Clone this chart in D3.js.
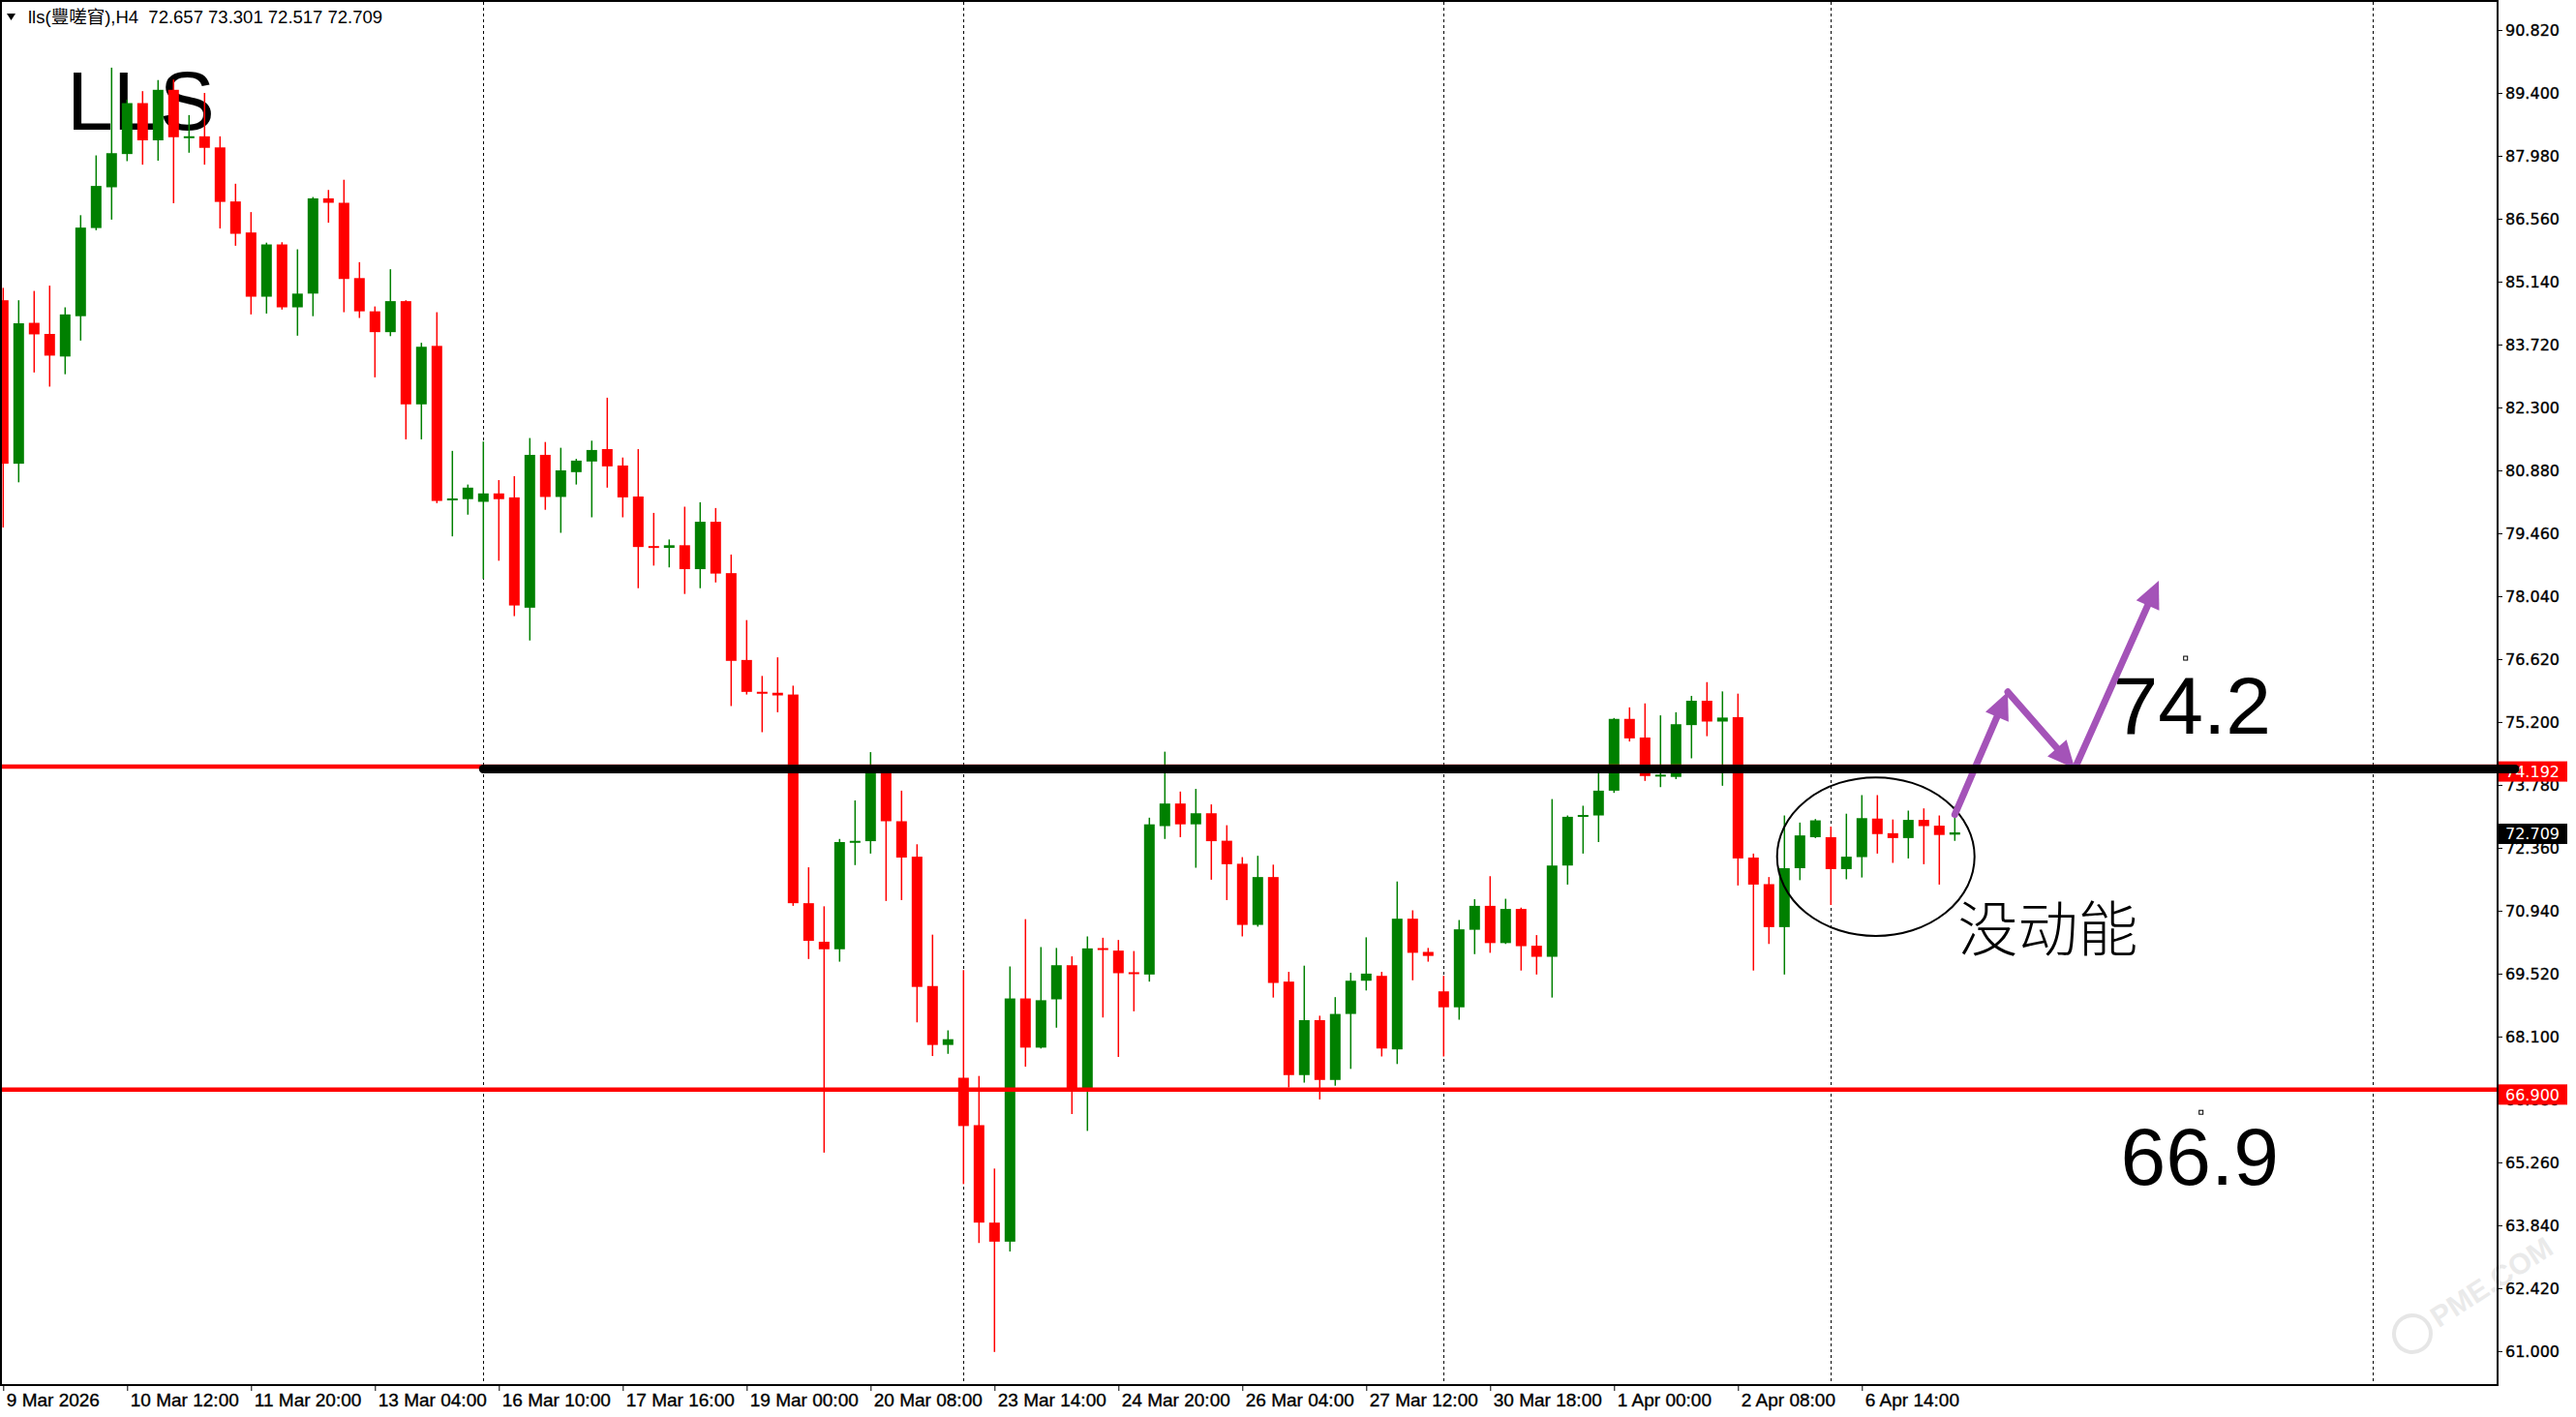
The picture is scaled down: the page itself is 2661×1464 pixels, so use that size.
<!DOCTYPE html>
<html><head><meta charset="utf-8">
<script src="https://cdn.jsdelivr.net/npm/d3@7"></script>
<style>html,body{margin:0;padding:0;background:#fff;}svg{display:block;}</style>
</head><body>
<svg id="c" width="2661" height="1464"></svg>
<script>
// ---- data (H4 bars, index 0 .. 126) ----
const opens  = [84.72,81.03,84.21,83.96,83.45,84.36,86.35,87.27,88.02,89.17,88.33,89.47,88.39,88.42,88.17,86.95,86.25,84.80,85.98,84.56,
                84.87,87.02,86.92,85.22,84.47,84.00,84.70,82.37,83.69,80.22,80.23,80.17,80.36,80.27,77.78,81.23,80.28,80.84,81.08,81.36,
                80.99,80.29,79.17,79.13,79.19,78.65,79.72,78.56,76.60,75.88,75.86,75.82,71.11,70.24,70.07,72.48,72.51,74.05,72.96,72.16,
                69.24,67.91,67.17,66.10,63.90,63.47,68.96,67.85,68.94,69.71,66.90,70.09,70.04,69.54,69.50,72.85,73.36,72.89,73.14,72.52,
                72.00,70.62,71.70,69.34,67.23,68.47,67.12,68.61,69.36,69.47,67.81,70.76,70.01,69.12,68.76,70.51,71.05,70.21,70.98,70.15,
                69.90,71.96,73.06,73.09,73.65,75.27,74.85,73.98,73.96,75.13,75.68,75.21,75.31,72.14,71.54,70.57,71.90,72.60,72.60,71.88,
                72.15,73.02,72.69,72.58,72.99,72.86,72.657];
const highs  = [85.00,84.72,84.93,85.05,84.56,86.64,87.99,89.97,89.25,89.44,89.69,89.70,88.90,89.40,88.42,87.35,86.71,86.02,86.03,85.87,
                87.05,87.21,87.44,85.58,84.58,85.42,84.72,83.76,84.45,81.32,80.56,81.53,80.66,80.75,81.61,81.52,81.39,81.14,81.55,82.52,
                81.17,81.36,79.92,79.32,80.06,80.16,80.03,78.98,77.50,76.24,76.66,76.02,71.92,71.04,72.56,73.43,74.52,74.12,73.65,72.44,
                70.40,68.24,69.60,67.21,65.12,69.68,70.75,70.12,70.10,69.91,70.36,70.33,70.28,70.03,73.04,74.53,73.63,73.69,73.34,72.87,
                72.15,72.18,71.98,69.56,69.70,68.57,68.99,69.54,70.34,69.56,71.60,70.95,70.10,69.47,70.73,71.20,71.72,71.21,71.01,70.39,
                73.46,73.09,73.31,74.05,75.29,75.53,75.62,75.35,75.42,75.79,76.10,75.89,75.84,72.23,71.70,73.09,72.93,73.01,72.84,73.13,
                73.55,73.55,73.00,73.20,73.25,73.09,73.301];
const lows   = [79.59,80.61,83.09,82.77,83.05,83.81,86.30,86.54,87.86,87.78,87.87,86.91,88.05,87.78,86.34,85.95,84.40,84.42,84.51,83.92,
                84.36,86.47,84.45,84.32,82.98,83.91,81.58,81.58,80.14,79.39,79.88,78.43,78.84,77.59,77.04,79.99,79.47,80.56,79.82,80.49,
                79.82,78.22,78.73,78.69,78.09,78.22,78.35,75.56,75.82,74.97,75.42,71.05,69.85,65.48,69.79,71.97,72.23,71.16,71.18,68.42,
                67.66,67.71,64.77,63.44,60.98,63.25,67.42,67.83,68.30,66.35,65.97,68.53,67.64,68.67,69.34,72.56,72.60,71.91,71.64,71.18,
                70.36,70.58,68.98,66.95,67.06,66.68,66.99,67.37,69.14,67.65,67.48,69.37,69.79,67.65,68.48,69.96,69.99,70.19,69.59,69.50,
                68.98,71.53,72.23,72.49,73.60,74.76,73.87,73.73,73.91,74.38,74.88,73.76,71.51,69.59,70.19,69.50,71.63,72.58,71.07,71.65,
                71.69,72.23,72.02,72.12,71.99,71.53,72.517];
const closes = [81.03,84.20,83.95,83.47,84.40,86.36,87.30,88.04,89.17,88.33,89.47,88.40,88.41,88.16,86.94,86.22,84.80,85.98,84.56,84.87,
                87.02,86.92,85.20,84.47,84.00,84.70,82.37,83.67,80.19,80.23,80.49,80.36,80.23,77.83,81.23,80.28,80.88,81.10,81.34,80.97,
                80.27,79.15,79.13,79.19,78.65,79.72,78.55,76.58,75.88,75.84,75.80,71.11,70.26,70.07,72.49,72.51,74.05,72.96,72.14,69.22,
                67.91,68.04,66.08,63.90,63.47,68.96,67.85,68.92,69.71,66.90,70.09,70.06,69.53,69.52,72.89,73.36,72.89,73.14,72.51,71.99,
                70.62,71.70,69.31,67.23,68.47,67.12,68.61,69.36,69.52,67.83,70.76,69.99,69.92,68.76,70.52,71.05,70.21,70.98,70.14,69.90,
                71.96,73.06,73.10,73.65,75.27,74.83,73.98,74.00,75.15,75.68,75.21,75.30,72.12,71.53,70.57,71.90,72.64,72.98,71.88,72.16,
                73.03,72.67,72.58,72.99,72.85,72.65,72.709];

const timeLabels    = ["9 Mar 2026","10 Mar 12:00","11 Mar 20:00","13 Mar 04:00","16 Mar 10:00","17 Mar 16:00","19 Mar 00:00","20 Mar 08:00",
                       "23 Mar 14:00","24 Mar 20:00","26 Mar 04:00","27 Mar 12:00","30 Mar 18:00","1 Apr 00:00","2 Apr 08:00","6 Apr 14:00"];
const timeLabelBars = [0,8,16,24,32,40,48,56,64,72,80,88,96,104,112,120];
const priceTicks    = [90.82,89.40,87.98,86.56,85.14,83.72,82.30,80.88,79.46,78.04,76.62,75.20,73.78,72.36,70.94,69.52,68.10,66.68,65.26,63.84,62.42,61.00];
const separatorBars = [31,62,93,118,153];

const symbolTitle = "lls(豐嗟窅),H4";
const supportLevel = 66.900;
const resistanceLevel = 74.192;
const resistanceBandLevel = 74.14;
const resistanceBandStartBar = 31;

// annotation anchors (bar index, price)
const arrowPath = [[126.0,73.11],[129.42,75.88],[133.75,74.15],[139.17,78.39]];
const ellipseCenter = [120.9,72.16], ellipseRadiusBars = 6.375, ellipseRadiusPrice = 1.79;
const bigTexts = [
  {t:"LLS",  bar:4.1,   price:88.57, size:86, font:"Liberation Sans, Arial, sans-serif", w:400},
  {t:"74.2", bar:136.2, price:74.94, size:84, font:"Liberation Sans, Arial, sans-serif", w:400},
  {t:"66.9", bar:136.7, price:64.76, size:84, font:"Liberation Sans, Arial, sans-serif", w:400},
  {t:"没动能", bar:126.2, price:70.02, size:62, font:"Noto Sans CJK SC, sans-serif", w:300}
];
const anchorDots = [[140.9,76.64],[141.9,66.39]];

// ---- layout ----
const W=2661,H=1464, L=2, R=2580, T=2, B=1431;
const svg=d3.select("#c");
svg.append("rect").attr("width",W).attr("height",H).attr("fill","#fff");

const x=d3.scaleLinear().domain([0,160]).range([3.3,3.3+16*160]);
const y=d3.scaleLinear().domain([61.0,90.82]).range([1395.9,31]);

const bars=d3.range(opens.length).map(i=>({i,o:opens[i],h:highs[i],l:lows[i],c:closes[i]}));

svg.append("defs").append("clipPath").attr("id","plot").append("rect")
  .attr("x",L).attr("y",T).attr("width",R-L).attr("height",B-T);
const plot=svg.append("g").attr("clip-path","url(#plot)");

// separators
plot.selectAll("line.sep").data(separatorBars).join("line").attr("class","sep")
  .attr("x1",d=>Math.round(x(d))+0.5).attr("x2",d=>Math.round(x(d))+0.5).attr("y1",T).attr("y2",B)
  .attr("stroke","#000").attr("stroke-width",1).attr("stroke-dasharray","3,3");

// big texts (background objects)
plot.selectAll("text.big").data(bigTexts).join("text").attr("class","big")
  .attr("x",d=>x(d.bar)).attr("y",d=>y(d.price)).attr("font-size",d=>d.size)
  .attr("font-family",d=>d.font).attr("font-weight",d=>d.w).attr("fill","#000").text(d=>d.t);

// candles
const up="#008000", dn="#ff0000";
plot.selectAll("line.wick").data(bars).join("line").attr("class","wick")
  .attr("x1",d=>x(d.i)).attr("x2",d=>x(d.i)).attr("y1",d=>y(d.h)).attr("y2",d=>y(d.l))
  .attr("stroke",d=>d.c>=d.o?up:dn).attr("stroke-width",1.5);
plot.selectAll("rect.body").data(bars).join("rect").attr("class","body")
  .attr("x",d=>x(d.i)-5.5).attr("width",11)
  .attr("y",d=>{const t=y(Math.max(d.o,d.c)),b=y(Math.min(d.o,d.c));return b-t<2?(t+b)/2-1:t;})
  .attr("height",d=>Math.max(2,y(Math.min(d.o,d.c))-y(Math.max(d.o,d.c))))
  .attr("fill",d=>d.c>=d.o?up:dn);

// horizontal levels
[supportLevel,resistanceLevel].forEach(v=>{
  svg.append("line").attr("x1",L).attr("x2",R+2).attr("y1",y(v)).attr("y2",y(v))
    .attr("stroke","#ff0000").attr("stroke-width",4.5);
});

// ellipse
svg.append("ellipse").attr("cx",x(ellipseCenter[0])).attr("cy",y(ellipseCenter[1]))
  .attr("rx",x(ellipseRadiusBars)-x(0)).attr("ry",y(0)-y(ellipseRadiusPrice))
  .attr("fill","none").attr("stroke","#000").attr("stroke-width",2);

// anchor dots
svg.selectAll("rect.anc").data(anchorDots).join("rect").attr("class","anc")
  .attr("x",d=>x(d[0])-2).attr("y",d=>y(d[1])-2).attr("width",4).attr("height",4)
  .attr("fill","#fff").attr("stroke","#000").attr("stroke-width",1);

// arrows
const purple="#a453b8";
const pts=arrowPath.map(p=>[x(p[0]),y(p[1])]);
for(let k=0;k<pts.length-1;k++){
  const [x0,y0]=pts[k],[x1,y1]=pts[k+1];
  const dx=x1-x0,dy=y1-y0,len=Math.hypot(dx,dy),ux=dx/len,uy=dy/len;
  const hl=28,hw=13;
  svg.append("line").attr("x1",x0).attr("y1",y0).attr("x2",x1-ux*hl*0.6).attr("y2",y1-uy*hl*0.6)
    .attr("stroke",purple).attr("stroke-width",7).attr("stroke-linecap","round");
  const bx=x1-ux*hl,by=y1-uy*hl;
  svg.append("path").attr("d",`M${x1},${y1}L${bx-uy*hw},${by+ux*hw}L${bx+uy*hw},${by-ux*hw}Z`)
    .attr("fill",purple);
}

// watermark
const wm=svg.append("g").attr("transform","translate(2492,1378) rotate(-33)").attr("opacity",0.5);
wm.append("circle").attr("r",19).attr("fill","none").attr("stroke","#cfcfcf").attr("stroke-width",4);
wm.append("text").attr("x",26).attr("y",10).attr("font-size",30).attr("font-weight",700)
  .attr("font-family","Liberation Sans, Arial, sans-serif").attr("fill","#d6d6d6").text("PME.COM");

// frame
svg.append("rect").attr("x",1).attr("y",1).attr("width",R-1).attr("height",B-1)
  .attr("fill","none").attr("stroke","#000").attr("stroke-width",2);

// price axis
const ya=svg.append("g").attr("transform",`translate(${R},0)`)
  .call(d3.axisRight(y).tickValues(priceTicks).tickFormat(d3.format(".3f")).tickSize(5).tickPadding(3));
ya.select(".domain").remove();
ya.selectAll("text").attr("font-family","DejaVu Sans, Verdana, sans-serif").attr("font-size",16).attr("fill","#000")
  .attr("stroke","#000").attr("stroke-width",0.35);

// time axis
const xa=svg.append("g").attr("transform",`translate(0,${B})`)
  .call(d3.axisBottom(x).tickValues(timeLabelBars).tickFormat((d,i)=>timeLabels[i]).tickSize(6).tickPadding(3));
xa.select(".domain").remove();
xa.selectAll("text").attr("text-anchor","start").attr("x",3)
  .attr("font-family","Liberation Sans Narrow, Arial Narrow, sans-serif").attr("font-size",19).attr("fill","#000")
  .attr("stroke","#000").attr("stroke-width",0.35);

// price boxes
const lastClose=closes[closes.length-1];
const boxes=[{v:resistanceLevel,bg:"#ff0000",off:5},{v:lastClose,bg:"#000",off:1.5},{v:supportLevel,bg:"#ff0000",off:5}];
boxes.forEach(b=>{
  const cy=y(b.v)+b.off;
  svg.append("rect").attr("x",R+1).attr("y",cy-10.5).attr("width",71).attr("height",21).attr("fill",b.bg);
  svg.append("text").attr("x",R+8).attr("y",cy).attr("dy","0.36em").attr("font-size",16)
    .attr("font-family","DejaVu Sans, Verdana, sans-serif").attr("fill","#fff").text(d3.format(".3f")(b.v));
});

// resistance band (thick black)
svg.append("line").attr("x1",x(resistanceBandStartBar)).attr("x2",R+18)
  .attr("y1",y(resistanceBandLevel)).attr("y2",y(resistanceBandLevel))
  .attr("stroke","#000").attr("stroke-width",9).attr("stroke-linecap","round");

// header
svg.append("path").attr("d","M7,14L16,14L11.5,21Z").attr("fill","#000");
const f3=d3.format(".3f"), lb=bars[bars.length-1];
svg.append("text").attr("x",29).attr("y",24).attr("font-size",18.5)
  .attr("font-family","Liberation Sans, Arial, Noto Sans CJK SC, sans-serif").attr("fill","#000")
  .style("white-space","pre")
  .text(`${symbolTitle}  ${f3(lb.o)} ${f3(lb.h)} ${f3(lb.l)} ${f3(lb.c)}`);
</script>
</body></html>
